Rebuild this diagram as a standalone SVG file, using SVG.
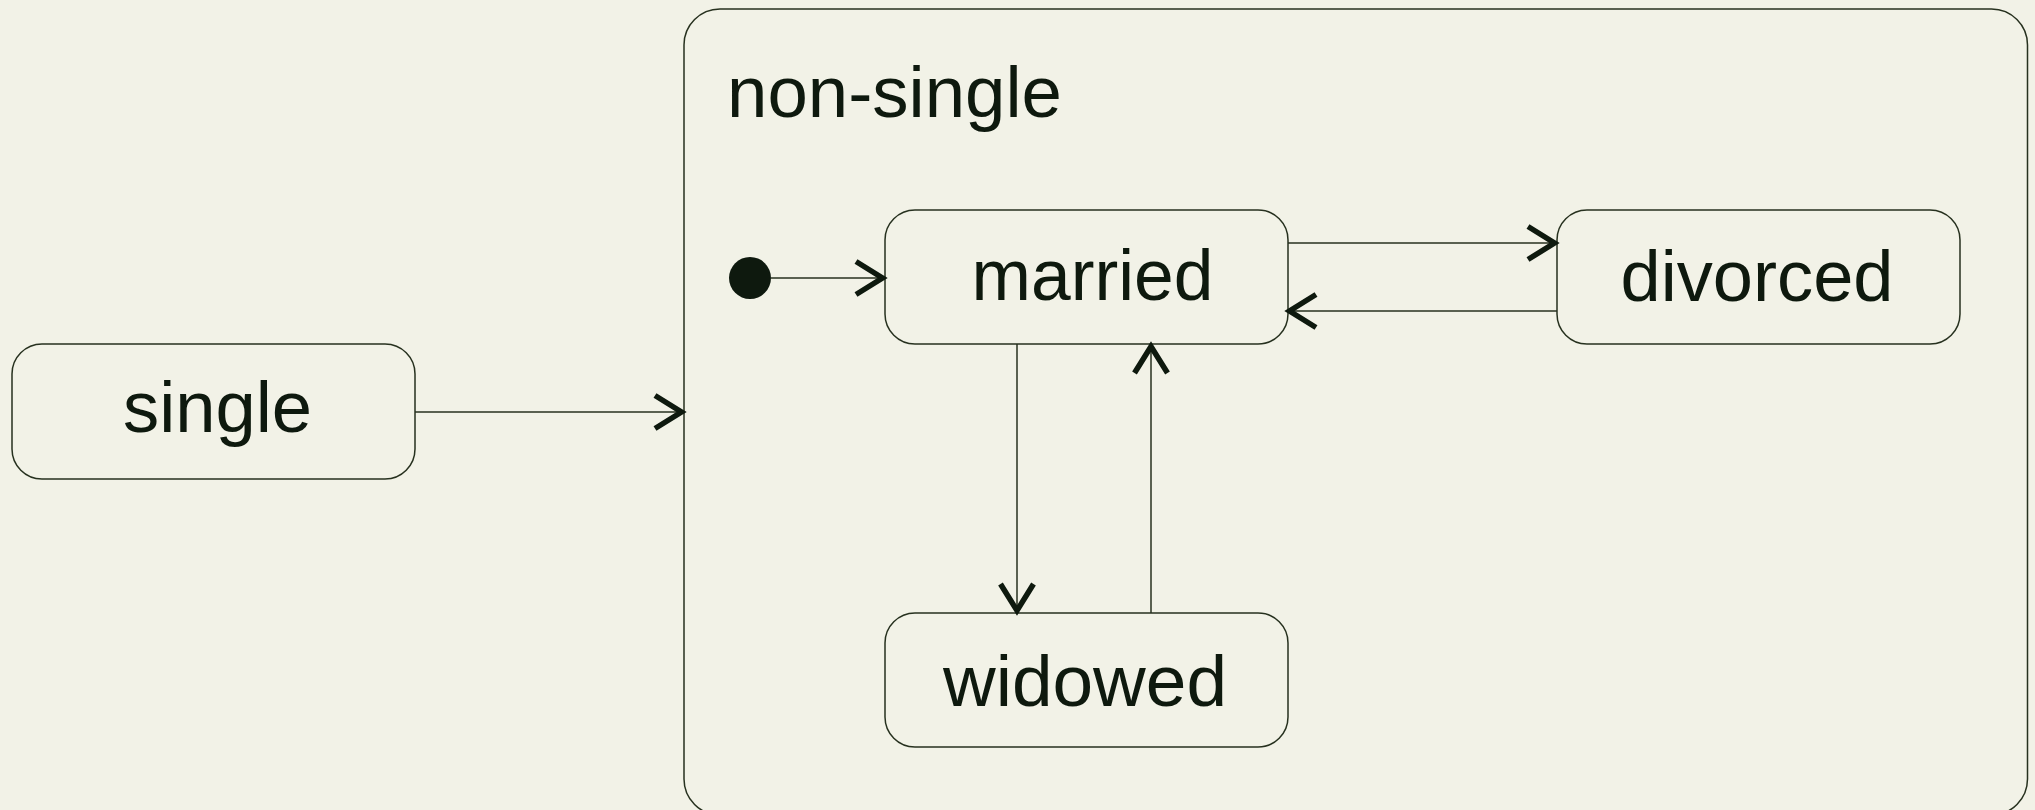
<svg xmlns="http://www.w3.org/2000/svg" width="2035" height="810" viewBox="0 0 2035 810">
  <style>
    .bg { fill: #f2f2e7; }
    .state { fill: #f2f2e7; stroke: #27311f; stroke-width: 1.5; }
    .label { font-family: "Liberation Sans", Arial, sans-serif; font-size: 73px; fill: #0e190e; }
    .edge { fill: none; stroke: #27311f; stroke-width: 1.5; }
    .head { fill: none; stroke: #0e190e; stroke-width: 5.5; stroke-linejoin: miter; stroke-linecap: butt; }
  </style>
  <defs>
    <marker id="arrow" markerUnits="userSpaceOnUse" markerWidth="40" markerHeight="40" refX="0" refY="0" viewBox="-35 -20 40 40" orient="auto" overflow="visible">
      <path class="head" d="M -29 -16.5 L -2.5 0 L -29 16.5"/>
    </marker>
  </defs>
  <rect class="bg" x="0" y="0" width="2035" height="810"/>

  <g id="non-single">
    <rect class="state" x="684" y="9" width="1343.5" height="806" rx="36" ry="36"/>
    <text class="label" x="727" y="117" textLength="335" lengthAdjust="spacingAndGlyphs">non-single</text>
  </g>

  <g id="single">
    <rect class="state" x="12" y="344" width="403" height="135" rx="30" ry="30"/>
    <text class="label" x="123" y="432" textLength="189" lengthAdjust="spacingAndGlyphs">single</text>
  </g>

  <g id="initial">
    <circle cx="750" cy="278" r="21" fill="#0e190e"/>
  </g>

  <g id="married">
    <rect class="state" x="885" y="210" width="403" height="134" rx="30" ry="30"/>
    <text class="label" x="971.5" y="300" textLength="242" lengthAdjust="spacingAndGlyphs">married</text>
  </g>

  <g id="divorced">
    <rect class="state" x="1557" y="210" width="403" height="134" rx="30" ry="30"/>
    <text class="label" x="1620.5" y="301" textLength="273" lengthAdjust="spacingAndGlyphs">divorced</text>
  </g>

  <g id="widowed">
    <rect class="state" x="885" y="613" width="403" height="134" rx="30" ry="30"/>
    <text class="label" x="943" y="706" textLength="284" lengthAdjust="spacingAndGlyphs">widowed</text>
  </g>

  <g id="connectors">
    <line class="edge" x1="415" y1="412" x2="684" y2="412" marker-end="url(#arrow)"/>
    <line class="edge" x1="771" y1="278" x2="885" y2="278" marker-end="url(#arrow)"/>
    <line class="edge" x1="1288" y1="243" x2="1557" y2="243" marker-end="url(#arrow)"/>
    <line class="edge" x1="1557" y1="311" x2="1287" y2="311" marker-end="url(#arrow)"/>
    <line class="edge" x1="1017" y1="344" x2="1017" y2="613" marker-end="url(#arrow)"/>
    <line class="edge" x1="1151" y1="613" x2="1151" y2="344" marker-end="url(#arrow)"/>
  </g>
</svg>
